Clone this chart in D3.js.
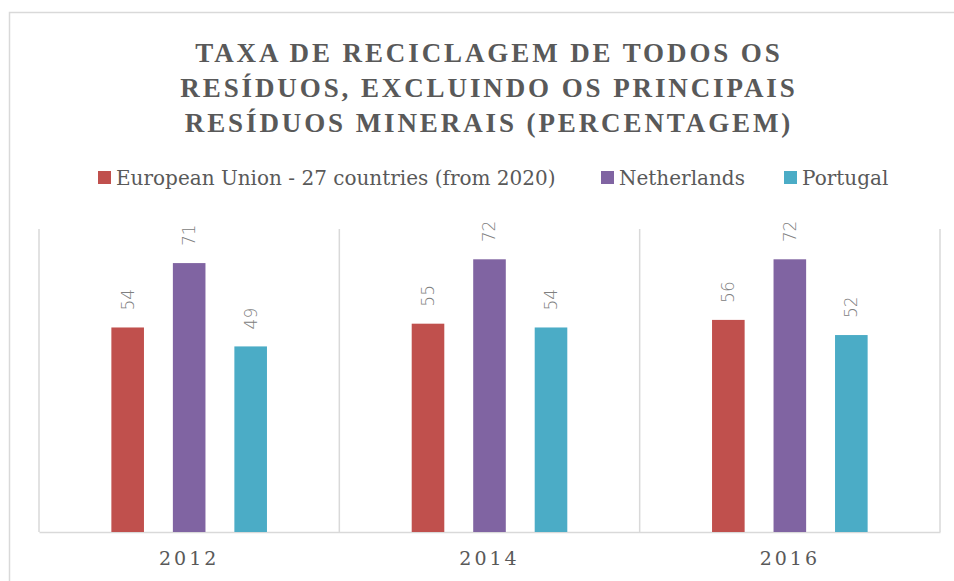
<!DOCTYPE html>
<html>
<head>
<meta charset="utf-8">
<script src="https://cdn.jsdelivr.net/npm/d3@7"></script>
<style>
body { margin: 0; background: #fff; }
</style>
</head>
<body>
<script>
var W = 954, H = 581;
var margin = {top: 229, right: 14, bottom: 49, left: 39};

var years = ["2012", "2014", "2016"];
var series = ["European Union - 27 countries (from 2020)", "Netherlands", "Portugal"];
var euValues = [54, 55, 56];
var nlValues = [71, 72, 72];
var ptValues = [49, 54, 52];
var colors = ["#c0504d", "#8064a2", "#4bacc6"];
var titleLines = ["TAXA DE RECICLAGEM DE TODOS OS", "RESÍDUOS, EXCLUINDO OS PRINCIPAIS", "RESÍDUOS MINERAIS (PERCENTAGEM)"];

var allValues = [euValues, nlValues, ptValues];
var data = [];
for (var i = 0; i < years.length; i++) {
  for (var j = 0; j < series.length; j++) {
    data.push({year: years[i], s: series[j], v: allValues[j][i], c: colors[j]});
  }
}

var svg = d3.select("body").append("svg")
  .attr("width", W)
  .attr("height", H);

// chart border
svg.append("rect")
  .attr("x", 9.5).attr("y", 12.5)
  .attr("width", W).attr("height", H)
  .attr("fill", "none")
  .attr("stroke", "#d9d9d9")
  .attr("stroke-width", 1.5);

var xScale = d3.scaleBand()
  .domain(years)
  .range([margin.left, W - margin.right]);

var bw = xScale.bandwidth();
var xInner = d3.scaleBand()
  .domain(series)
  .range([bw / 2 - 92.25, bw / 2 + 92.25]);
var barW = xInner.bandwidth() * 0.53;

var yScale = d3.scaleLinear()
  .domain([0, 80])
  .range([H - margin.bottom, margin.top]);

// title
svg.append("text")
  .attr("x", 489)
  .attr("y", 62)
  .attr("text-anchor", "middle")
  .attr("fill", "#595959")
  .style("font-family", "Liberation Serif")
  .style("font-weight", "bold")
  .style("font-size", "27px")
  .style("letter-spacing", "2.9px")
  .selectAll("tspan")
  .data(titleLines)
  .enter().append("tspan")
  .attr("x", 489)
  .attr("dy", function(d, i) { return i === 0 ? 0 : 35; })
  .text(function(d) { return d; });

// legend
var legendX = [98, 601, 784];
var legend = svg.append("g").selectAll("g")
  .data(series)
  .enter().append("g")
  .attr("transform", function(d, i) { return "translate(" + legendX[i] + ",171)"; });
legend.append("rect")
  .attr("width", 13).attr("height", 13)
  .attr("fill", function(d, i) { return colors[i]; });
legend.append("text")
  .attr("x", 18).attr("y", 14)
  .attr("fill", "#595959")
  .style("font-family", "DejaVu Serif")
  .style("font-size", "20px")
  .text(function(d) { return d; });

// vertical dividers between categories
var bounds = years.map(function(d) { return xScale(d); }).concat([xScale.range()[1]]);
svg.append("g").selectAll("line")
  .data(bounds)
  .enter().append("line")
  .attr("x1", function(d) { return d; })
  .attr("x2", function(d) { return d; })
  .attr("y1", yScale(80))
  .attr("y2", yScale(0))
  .attr("stroke", "#d9d9d9")
  .attr("stroke-width", 1.5);

// x axis
var xAxis = d3.axisBottom(xScale).tickSize(0).tickPadding(20);
var gx = svg.append("g")
  .attr("transform", "translate(0," + yScale(0) + ")")
  .call(xAxis);
gx.select(".domain").attr("stroke", "#d9d9d9").attr("stroke-width", 1.5);
gx.selectAll("text")
  .attr("fill", "#595959")
  .style("font-family", "DejaVu Serif")
  .style("font-size", "19px")
  .style("letter-spacing", "3px");

// bars
svg.append("g").selectAll("rect")
  .data(data)
  .enter().append("rect")
  .attr("x", function(d) { return xScale(d.year) + xInner(d.s) + (xInner.bandwidth() - barW) / 2; })
  .attr("y", function(d) { return yScale(d.v); })
  .attr("width", barW)
  .attr("height", function(d) { return yScale(0) - yScale(d.v); })
  .attr("fill", function(d) { return d.c; });

// value labels
svg.append("g").selectAll("text")
  .data(data)
  .enter().append("text")
  .attr("transform", function(d) {
    var cx = xScale(d.year) + xInner(d.s) + xInner.bandwidth() / 2;
    return "translate(" + cx + "," + (yScale(d.v) - 17) + ") rotate(-90)";
  })
  .attr("dy", "0.35em")
  .attr("fill", "#808080")
  .style("font-family", "DejaVu Sans")
  .style("font-size", "17px")
  .style("font-weight", "300")
  .text(function(d) { return d.v; });
</script>
</body>
</html>
